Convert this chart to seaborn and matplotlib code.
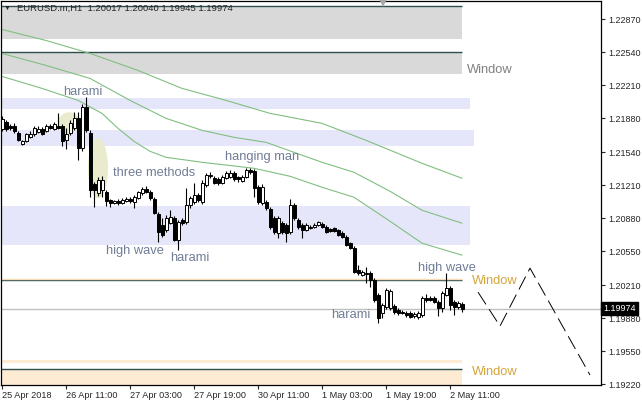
import numpy as np
import pandas as pd
import matplotlib
matplotlib.use("Agg")
import matplotlib.pyplot as plt
import matplotlib.transforms as mtransforms
from matplotlib.patches import Ellipse
import seaborn as sns

# EURUSD.m H1 candles, in pips (price * 10000)
opens = [12177, 12184, 12180, 12180, 12173, 12162, 12165, 12169, 12172, 12174,
         12177, 12175, 12180, 12177, 12180, 12180, 12166, 12173, 12178, 12188,
         12158, 12199, 12173, 12122, 12113, 12116, 12114, 12106, 12103, 12105,
         12103, 12105, 12107, 12104, 12108, 12113, 12117, 12114, 12107, 12092,
         12081, 12076, 12083, 12088, 12066, 12086, 12084, 12101, 12104, 12111,
         12104, 12121, 12130, 12128, 12127, 12123, 12128, 12129, 12133, 12129,
         12125, 12129, 12136, 12135, 12119, 12103, 12104, 12097, 12088, 12073,
         12083, 12081, 12074, 12101, 12086, 12081, 12076, 12078, 12079, 12081,
         12082, 12079, 12077, 12078, 12076, 12073, 12069, 12063, 12058, 12036,
         12031, 12033, 12033, 12026, 12011, 11993, 11999, 11998, 12000, 11996,
         11994, 11993, 11993, 11990, 11989, 11991, 12008, 12008, 12008, 12004,
         11998, 12011, 12018, 12004, 11999, 12001.7]
closes = [12187, 12177, 12178, 12175, 12166, 12165, 12172, 12172, 12178, 12177,
          12172, 12180, 12178, 12182, 12178, 12165, 12172, 12183, 12188, 12158,
          12199, 12176, 12116, 12116, 12126, 12126, 12105, 12103, 12105, 12103,
          12106, 12107, 12105, 12109, 12114, 12117, 12114, 12108, 12093, 12074,
          12071, 12088, 12089, 12066, 12084, 12083, 12101, 12108, 12111, 12106,
          12123, 12131, 12131, 12123, 12123, 12129, 12133, 12133, 12127, 12127,
          12129, 12136, 12134, 12118, 12104, 12119, 12098, 12079, 12074, 12088,
          12074, 12073, 12101, 12088, 12079, 12076, 12081, 12079, 12081, 12084,
          12079, 12074, 12075, 12075, 12071, 12069, 12061, 12058, 12034, 12033,
          12034, 12032, 12026, 12006, 11988, 12001, 12016, 12015, 11994, 11993,
          11993, 11991, 11989, 11992, 11993, 12008, 12006, 12006, 12004, 11998,
          12013, 12018, 12001, 11999, 12003, 11997.4]
highs = [12190, 12186, 12182, 12183, 12175, 12166, 12173, 12175, 12180, 12180,
         12179, 12182, 12182, 12184, 12193, 12182, 12178, 12186, 12194, 12194,
         12202, 12209, 12176, 12124, 12129, 12130, 12116, 12107, 12106, 12107,
         12108, 12109, 12109, 12111, 12115, 12119, 12120, 12116, 12109, 12094,
         12088, 12091, 12096, 12090, 12086, 12088, 12118, 12110, 12123, 12113,
         12126, 12133, 12134, 12130, 12129, 12131, 12135, 12136, 12135, 12130,
         12131, 12138, 12138, 12137, 12121, 12122, 12106, 12099, 12090, 12090,
         12085, 12083, 12107, 12103, 12088, 12083, 12083, 12081, 12083, 12085,
         12084, 12081, 12078, 12079, 12077, 12075, 12071, 12064, 12060, 12041,
         12036, 12039, 12035, 12028, 12013, 12003, 12018, 12017, 12002, 11998,
         11996, 11995, 11995, 11994, 11995, 12010, 12012, 12010, 12010, 12006,
         12015, 12033, 12020, 12006, 12005, 12004.0]
lows = [12175, 12175, 12176, 12173, 12165, 12161, 12164, 12168, 12170, 12173,
        12171, 12174, 12177, 12176, 12177, 12160, 12157, 12171, 12176, 12146,
        12155, 12174, 12109, 12099, 12110, 12109, 12100, 12099, 12102, 12101,
        12102, 12104, 12103, 12098, 12107, 12111, 12113, 12106, 12092, 12064,
        12069, 12074, 12082, 12065, 12056, 12081, 12082, 12098, 12102, 12104,
        12102, 12119, 12128, 12122, 12121, 12122, 12127, 12128, 12125, 12124,
        12124, 12128, 12132, 12109, 12102, 12101, 12096, 12077, 12072, 12068,
        12072, 12064, 12072, 12086, 12077, 12068, 12075, 12077, 12078, 12080,
        12078, 12073, 12074, 12074, 12070, 12068, 12060, 12057, 12033, 12031,
        12030, 12023, 12019, 12004, 11983, 11988, 11997, 11996, 11992, 11991,
        11992, 11989, 11988, 11988, 11987, 11989, 12004, 12005, 12003, 11990,
        11994, 12010, 11996, 11991, 11997, 11994.5]
last_close = 1.19974

# moving averages (bar index, pips)
ma_a_bars = [0, 11, 22, 34, 45, 56, 67, 80, 91, 105, 115]
ma_a_vals = [12277, 12266, 12253, 12236, 12218, 12206, 12193, 12183, 12166, 12143, 12128]
ma_b_bars = [0, 11, 22, 32, 41, 50, 58, 66, 80, 88, 97, 105, 115]
ma_b_vals = [12253, 12241, 12228, 12206, 12188, 12176, 12169, 12164, 12144, 12134, 12115, 12096, 12083]
ma_c_bars = [0, 10, 19, 25, 29, 33, 37, 41, 50, 63, 72, 80, 88, 97, 105, 115]
ma_c_vals = [12230, 12218, 12206, 12193, 12178, 12165, 12155, 12149, 12144, 12138, 12130, 12119, 12109, 12085, 12063, 12051]

# zones (price ranges) and window lines
gray_lo = [1.2267, 1.2232]
gray_hi = [1.2300, 1.2254]
lav_lo = [1.2197, 1.2160, 1.2061]
lav_hi = [1.2208, 1.2176, 1.2100]
lav_end = [117, 118, 117]
peach_lo = [1.1943, 1.1900]
peach_hi = [1.1946, 1.1937]
zone_end = 115
window_lines = [1.2300, 1.2254, 1.2026, 1.1937]
peach_line = 1.2027

# candle pattern labels
pat_text = ["harami", "three methods", "hanging man", "high wave", "harami", "high wave", "harami"]
pat_bar = [15.3, 27.8, 55.8, 26.0, 42.0, 104.0, 82.3]
pat_price = [1.2214, 1.2133, 1.2149, 1.2055, 1.2048, 1.2038, 1.1991]

win_text = ["Window", "Window", "Window"]
win_bar = [116.3, 117.5, 117.5]
win_price = [1.2236, 1.2025, 1.1934]
win_color = ["#808080", "#d4a53a", "#d4a53a"]

# highlighted pattern areas
hl_bar_lo = [14.0, 21.5]
hl_bar_hi = [19.5, 26.5]
hl_lo = [1.2173, 1.2108]
hl_hi = [1.2194, 1.2168]

# projection zigzag
proj_bar = [119, 124.5, 132, 147]
proj_price = [1.2014, 1.1980, 1.2038, 1.1931]

yticks = [1.22870, 1.22540, 1.22210, 1.21880, 1.21540, 1.21210,
          1.20880, 1.20550, 1.20210, 1.19880, 1.19550, 1.19220]
xtick_bars = [0, 16, 32, 48, 64, 80, 96, 112]
xtick_labels = ["25 Apr 2018", "26 Apr 11:00", "27 Apr 03:00", "27 Apr 19:00",
                "30 Apr 11:00", "1 May 03:00", "1 May 19:00", "2 May 11:00"]

df = pd.DataFrame({"open": opens, "close": closes, "high": highs, "low": lows}) / 10000
df["bar"] = np.arange(len(df))

sns.set_style("white")
plt.rcParams["font.family"] = ["Liberation Sans", "DejaVu Sans"]

fig = plt.figure(figsize=(6.42, 4.05), dpi=100)
ax = fig.add_axes([1 / 642, 20 / 405, 600 / 642, 384.5 / 405])
ax.set_xlim(-0.25, 149.75)
ax.set_ylim(1.1921, 1.2306)

# zones
for lo, hi in zip(gray_lo, gray_hi):
    ax.fill_between([-1, zone_end], lo, hi, color="#d9d9d9", lw=0, zorder=0)
for lo, hi, end in zip(lav_lo, lav_hi, lav_end):
    ax.fill_between([-1, end], lo, hi, color="#e6e6fa", lw=0, zorder=0)
for lo, hi in zip(peach_lo, peach_hi):
    ax.fill_between([-1, zone_end], lo, hi, color="#fdebd3", lw=0, zorder=0)
ax.hlines(window_lines, -1, zone_end, color="#2f4f4f", lw=1, zorder=1)
ax.hlines([peach_line], -1, zone_end, color="#f5dcb5", lw=1, zorder=1)

# pattern highlights
for b0, b1, lo, hi in zip(hl_bar_lo, hl_bar_hi, hl_lo, hl_hi):
    ax.add_patch(Ellipse(((b0 + b1) / 2, (lo + hi) / 2), b1 - b0, hi - lo,
                         facecolor="#e9ebcc", edgecolor="none", zorder=1))

# moving averages
for bars, vals in [(ma_a_bars, ma_a_vals), (ma_b_bars, ma_b_vals), (ma_c_bars, ma_c_vals)]:
    sns.lineplot(x=bars, y=np.array(vals) / 10000, ax=ax, color="#80bf80", lw=0.8, zorder=2)

# current price line
ax.axhline(last_close, color="#c0c0c0", lw=1, zorder=1)

# candles
up = df["close"] >= df["open"]
body_lo = df[["open", "close"]].min(axis=1)
body_h = (df["close"] - df["open"]).abs().clip(lower=0.00006)
ax.vlines(df["bar"], df["low"], df["high"], color="black", lw=0.8, zorder=3)
ax.bar(df["bar"], body_h, bottom=body_lo, width=0.75,
       color=np.where(up, "white", "black"), edgecolor="black", lw=0.7, zorder=4)

# projection
ax.plot(proj_bar, proj_price, color="black", lw=0.7, dashes=(15, 6), zorder=3)

# labels
for t, b, p in zip(pat_text, pat_bar, pat_price):
    ax.text(b, p, t, color="#717d96", fontsize=9.3, va="center", ha="left", zorder=5)
for t, b, p, c in zip(win_text, win_bar, win_price, win_color):
    ax.text(b, p, t, color=c, fontsize=9.3, va="center", ha="left", zorder=5)

# axes
ax.yaxis.tick_right()
ax.set_yticks(yticks)
ax.set_yticklabels([f"{v:.5f}" for v in yticks])
ax.set_xticks(xtick_bars)
ax.set_xticklabels(xtick_labels)
for lab in ax.get_xticklabels():
    lab.set_ha("left")
ax.tick_params(axis="y", direction="out", length=3, width=0.8, labelsize=6.5, pad=2, right=True, left=False)
ax.tick_params(axis="x", direction="out", length=3, width=0.8, labelsize=6.6, pad=1, bottom=True)
for s in ax.spines.values():
    s.set_color("black")
    s.set_linewidth(0.9)
ax.set_xlabel("")
ax.set_ylabel("")

# price tag
trans = mtransforms.blended_transform_factory(ax.transAxes, ax.transData)
ax.text(1.004, last_close, f"{last_close:.5f}", transform=trans, color="white", fontsize=6.5,
        va="center", ha="left", zorder=10,
        bbox=dict(facecolor="black", edgecolor="black", pad=1.5), clip_on=False)

# shift marker and title
ax.plot([95.25], [1.2304], marker="v", color="#a8a8a8", ms=7, mew=0, clip_on=False, zorder=6)
fig.text(4 / 642, 1 - 8 / 405, "\u25bc", fontsize=5, va="center", ha="left")
fig.text(17 / 642, 1 - 8 / 405, "EURUSD.m,H1  1.20017 1.20040 1.19945 1.19974",
         fontsize=6.8, va="center", ha="left")

plt.savefig("out.png", dpi=100)
